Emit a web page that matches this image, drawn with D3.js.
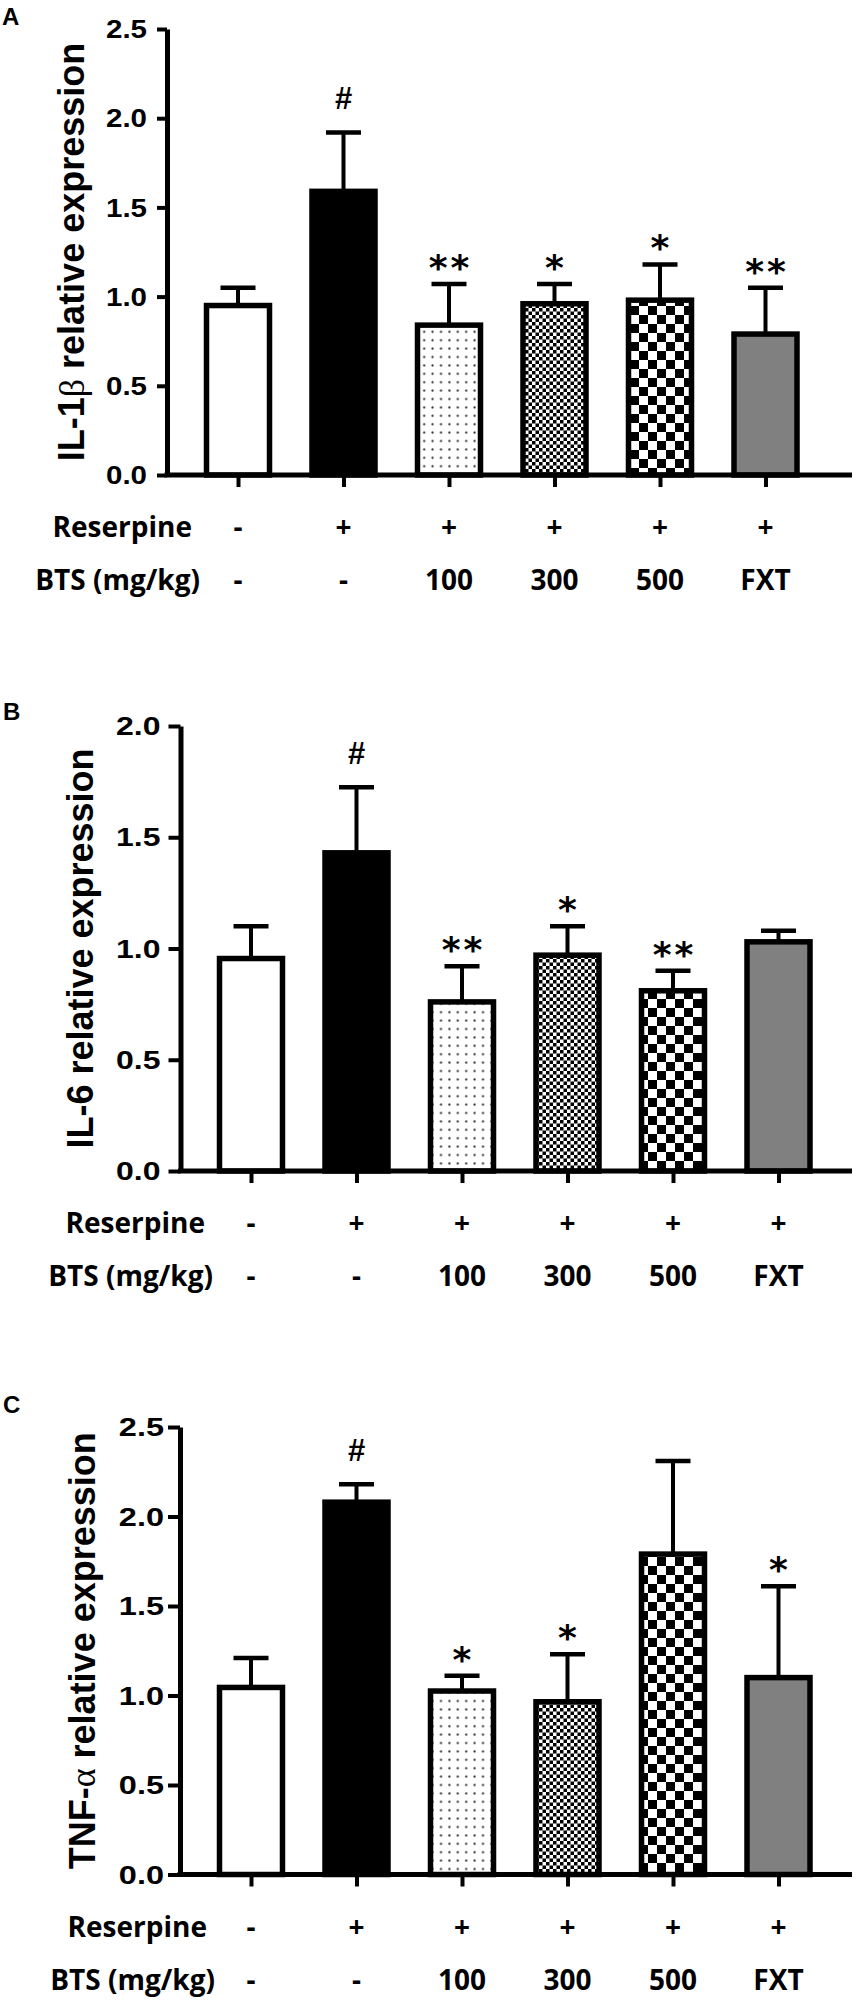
<!DOCTYPE html>
<html>
<head>
<meta charset="utf-8">
<script src="https://cdn.jsdelivr.net/npm/d3@7"></script>
<style>
  html, body { margin: 0; padding: 0; background: #fff; }
  svg { display: block; }
</style>
</head>
<body>
<svg id="chart" width="856" height="2000"></svg>
<script>
// ---------------- data ----------------
const categories = ["Control", "Reserpine", "BTS100", "BTS300", "BTS500", "FXT"];
const reserpineRow = ["-", "+", "+", "+", "+", "+"];
const btsRow = ["-", "-", "100", "300", "500", "FXT"];

const il1bMean = [0.95, 1.59, 0.84, 0.96, 0.98, 0.79];
const il1bSEM  = [0.10, 0.33, 0.23, 0.11, 0.20, 0.26];
const il1bSig  = ["", "#", "**", "*", "*", "**"];

const il6Mean = [0.955, 1.43, 0.76, 0.97, 0.81, 1.03];
const il6SEM  = [0.145, 0.295, 0.16, 0.13, 0.09, 0.05];
const il6Sig  = ["", "#", "**", "*", "**", ""];

const tnfMean = [1.045, 2.08, 1.025, 0.965, 1.79, 1.10];
const tnfSEM  = [0.165, 0.10, 0.085, 0.265, 0.52, 0.51];
const tnfSig  = ["", "#", "*", "*", "", "*"];

const ticksA = [0, 0.5, 1.0, 1.5, 2.0, 2.5];
const ticksB = [0, 0.5, 1.0, 1.5, 2.0];
const ticksC = [0, 0.5, 1.0, 1.5, 2.0, 2.5];

const fills = ["#ffffff", "#000000", "url(#dots)", "url(#fineChecker)", "url(#coarseChecker)", "#808080"];

// ---------------- drawing ----------------
const svg = d3.select("#chart");
const defs = svg.append("defs");

const pDots = defs.append("pattern").attr("id", "dots").attr("patternUnits", "userSpaceOnUse")
  .attr("width", 8.4).attr("height", 8.4);
pDots.append("rect").attr("width", 8.4).attr("height", 8.4).attr("fill", "#fff");
pDots.append("circle").attr("cx", 4.2).attr("cy", 4.2).attr("r", 1.1).attr("fill", "#333");

const pFine = defs.append("pattern").attr("id", "fineChecker").attr("patternUnits", "userSpaceOnUse")
  .attr("width", 7).attr("height", 7);
pFine.append("rect").attr("width", 7).attr("height", 7).attr("fill", "#fff");
pFine.append("rect").attr("width", 3.5).attr("height", 3.5).attr("fill", "#000");
pFine.append("rect").attr("x", 3.5).attr("y", 3.5).attr("width", 3.5).attr("height", 3.5).attr("fill", "#000");

const pCoarse = defs.append("pattern").attr("id", "coarseChecker").attr("patternUnits", "userSpaceOnUse")
  .attr("width", 18).attr("height", 18);
pCoarse.append("rect").attr("width", 18).attr("height", 18).attr("fill", "#fff");
pCoarse.append("rect").attr("width", 9).attr("height", 9).attr("fill", "#000");
pCoarse.append("rect").attr("x", 9).attr("y", 9).attr("width", 9).attr("height", 9).attr("fill", "#000");

const ARIAL = "'Liberation Sans', Arial, Helvetica, sans-serif";
const ROWFONT = "'Open Sans', 'Noto Sans', sans-serif";

function drawPanel(cfg) {
  const g = svg.append("g");
  const y = d3.scaleLinear().domain([0, cfg.ticks[cfg.ticks.length - 1]]).range([cfg.y0, cfg.yTop]);
  const x = d3.scalePoint().domain(categories).range([cfg.x0, cfg.x0 + 5 * 105.5]);
  const barW = 63;

  g.append("text").attr("x", cfg.letterX).attr("y", cfg.letterY)
    .attr("font-family", ARIAL).attr("font-weight", "bold").attr("font-size", 24)
    .text(cfg.letter);

  const data = categories.map((c, i) => ({ c, m: cfg.mean[i], s: cfg.sem[i], sig: cfg.sig[i], fill: fills[i] }));

  g.selectAll(".err").data(data).join("line")
    .attr("x1", d => x(d.c)).attr("x2", d => x(d.c))
    .attr("y1", d => y(d.m)).attr("y2", d => y(d.m + d.s))
    .attr("stroke", "#000").attr("stroke-width", 4);
  g.selectAll(".cap").data(data).join("line")
    .attr("x1", d => x(d.c) - 17.5).attr("x2", d => x(d.c) + 17.5)
    .attr("y1", d => y(d.m + d.s)).attr("y2", d => y(d.m + d.s))
    .attr("stroke", "#000").attr("stroke-width", 4.5);

  g.selectAll(".bar").data(data).join("rect")
    .attr("x", d => x(d.c) - barW / 2).attr("width", barW)
    .attr("y", d => y(d.m)).attr("height", d => y(0) - y(d.m))
    .attr("fill", d => d.fill).attr("stroke", "#000").attr("stroke-width", 5.5);

  g.selectAll(".sig").data(data.filter(d => d.sig)).join("text")
    .attr("x", d => x(d.c) + (d.sig === "**" ? 1.5 : 0))
    .attr("y", d => d.sig === "#" ? y(d.m + d.s) - 23 : y(d.m + d.s) - 4)
    .attr("text-anchor", "middle")
    .attr("font-family", d => d.sig === "#" ? ARIAL : "'DejaVu Sans', sans-serif")
    .attr("font-weight", "bold")
    .attr("font-size", d => d.sig === "#" ? 31 : 36)
    .attr("letter-spacing", d => d.sig === "**" ? 3 : 0)
    .text(d => d.sig);

  const yAxis = d3.axisLeft(y).tickValues(cfg.ticks).tickFormat(d3.format(".1f"))
    .tickSize(cfg.tickLen).tickSizeOuter(0).tickPadding(cfg.tickPad);
  const ya = g.append("g").attr("transform", `translate(${cfg.axisX},0)`).call(yAxis);
  ya.select(".domain").attr("stroke-width", 5).attr("stroke", "#000");
  ya.selectAll(".tick line").attr("stroke-width", 4).attr("stroke", "#000");
  ya.selectAll(".tick text")
    .attr("font-family", ARIAL).attr("font-weight", "bold").attr("font-size", 25)
    .attr("fill", "#000")
    .attr("dy", null).attr("dominant-baseline", "central")
    .attr("x", -(cfg.tickLen + cfg.tickPad) / cfg.labelStretch)
    .attr("transform", `scale(${cfg.labelStretch},1)`);

  g.append("line").attr("x1", cfg.axisX - 2.5).attr("x2", 852)
    .attr("y1", y(0)).attr("y2", y(0)).attr("stroke", "#000").attr("stroke-width", 5);
  const xAxis = d3.axisBottom(x).tickSize(12).tickFormat("");
  const xa = g.append("g").attr("transform", `translate(0,${y(0)})`).call(xAxis);
  xa.select(".domain").remove();
  xa.selectAll(".tick line").attr("stroke-width", 4).attr("stroke", "#000");

  const t = g.append("text")
    .attr("transform", `translate(${cfg.titleX},${(cfg.y0 + cfg.yTop) / 2}) rotate(-90)`)
    .attr("text-anchor", "middle")
    .attr("font-family", ARIAL).attr("font-weight", "bold").attr("font-size", 36);
  t.append("tspan").text(cfg.titlePre);
  t.append("tspan").attr("font-family", "'Liberation Serif', 'DejaVu Serif', serif")
    .attr("font-weight", "normal").text(cfg.greek);
  t.append("tspan").text(cfg.titlePost);

  const rows = [
    { label: "Reserpine", vals: reserpineRow, dy: 62, end: cfg.rowEnd1 },
    { label: "BTS (mg/kg)", vals: btsRow, dy: 115, end: cfg.rowEnd2 }
  ];
  rows.forEach(r => {
    g.append("text").attr("x", r.end).attr("y", y(0) + r.dy)
      .attr("text-anchor", "end")
      .attr("font-family", ROWFONT).attr("font-weight", "bold").attr("font-size", 28)
      .text(r.label);
    g.selectAll(null).data(categories).join("text")
      .attr("x", (c) => x(c)).attr("y", y(0) + r.dy)
      .attr("text-anchor", "middle")
      .attr("font-family", ROWFONT).attr("font-weight", "bold").attr("font-size", 28)
      .text((c, i) => r.vals[i]);
  });
}

drawPanel({
  letter: "A", letterX: 2, letterY: 25,
  ticks: ticksA, y0: 475, yTop: 29, axisX: 167, x0: 238,
  tickLen: 10, tickPad: 10, labelStretch: 1.18,
  titleX: 83.5, titlePre: "IL-1", greek: "β", titlePost: " relative expression",
  mean: il1bMean, sem: il1bSEM, sig: il1bSig,
  rowEnd1: 192, rowEnd2: 200
});

drawPanel({
  letter: "B", letterX: 3, letterY: 720,
  ticks: ticksB, y0: 1171, yTop: 726, axisX: 180.5, x0: 251,
  tickLen: 12, tickPad: 8, labelStretch: 1.28,
  titleX: 93, titlePre: "IL-6 relative expression", greek: "", titlePost: "",
  mean: il6Mean, sem: il6SEM, sig: il6Sig,
  rowEnd1: 205, rowEnd2: 213
});

drawPanel({
  letter: "C", letterX: 3, letterY: 1413,
  ticks: ticksC, y0: 1874.5, yTop: 1427, axisX: 180, x0: 251,
  tickLen: 12, tickPad: 4, labelStretch: 1.3,
  titleX: 95, titlePre: "TNF-", greek: "α", titlePost: " relative expression",
  mean: tnfMean, sem: tnfSEM, sig: tnfSig,
  rowEnd1: 207, rowEnd2: 215
});
</script>
</body>
</html>
